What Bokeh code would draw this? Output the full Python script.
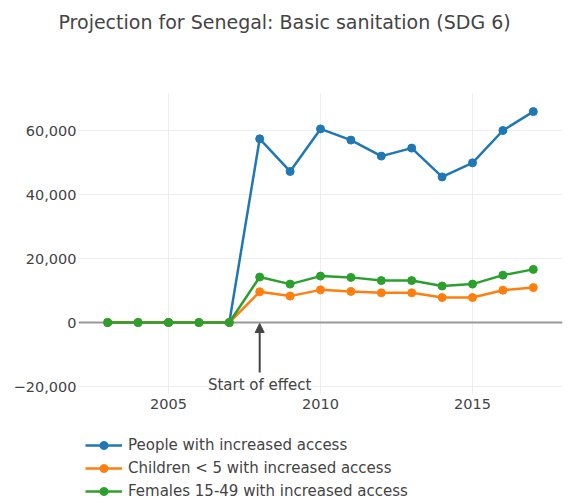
from bokeh.plotting import figure
from bokeh.layouts import column
from bokeh.models import (Legend, LegendItem, Span, Arrow, NormalHead, Label,
                          FixedTicker, Range1d, Title)
from bokeh.embed import file_html
from bokeh.resources import INLINE

# ---- data ----
years = [2003, 2004, 2005, 2006, 2007, 2008, 2009, 2010, 2011, 2012, 2013, 2014, 2015, 2016, 2017]
people = [0, 0, 0, 0, 0, 57400, 47200, 60500, 57000, 52000, 54500, 45500, 49900, 60000, 65900]
children = [0, 0, 0, 0, 0, 9600, 8250, 10200, 9700, 9270, 9270, 7800, 7800, 10100, 10900]
females = [0, 0, 0, 0, 0, 14200, 12000, 14500, 14100, 13100, 13100, 11400, 12000, 14800, 16600]
series_names = ["People with increased access",
                "Children < 5 with increased access",
                "Females 15-49 with increased access"]
colors = ["#1f77b4", "#ff7f0e", "#2ca02c"]
x_ticks = [2005, 2010, 2015]
y_ticks = [-20000, 0, 20000, 40000, 60000]
y_tick_labels = ["\u221220,000", "0", "20,000", "40,000", "60,000"]
title_text = "Projection for Senegal: Basic sanitation (SDG 6)"
annotation_year = 2008
annotation_text = "Start of effect"

FONT = "DejaVu Sans"
TXT = "#444444"

p = figure(width=579, height=420, output_backend="svg", toolbar_location=None,
           x_range=Range1d(2002.04, 2017.96), y_range=Range1d(-22500, 71875),
           min_border_left=78, min_border_right=17, min_border_top=92,
           min_border_bottom=26)
p.outline_line_color = None
p.background_fill_color = "white"

# spacer between frame and title, then the title itself further out
p.add_layout(Title(text=" ", text_font_size="30px", standoff=20), "above")
p.add_layout(Title(text=title_text, text_font=FONT, text_font_size="19px",
                   text_font_style="normal", text_color=TXT, align="left",
                   offset=-20, standoff=10), "above")

# axes
for ax in (p.xaxis[0], p.yaxis[0]):
    ax.axis_line_color = None
    ax.major_tick_line_color = None
    ax.minor_tick_line_color = None
    ax.major_tick_out = 0
    ax.major_tick_in = 0
    ax.major_label_text_font = FONT
    ax.major_label_text_font_size = "14.5px"
    ax.major_label_text_color = TXT
p.xaxis.major_label_standoff = 4
p.yaxis.major_label_standoff = 2
p.xaxis.ticker = FixedTicker(ticks=x_ticks)
p.yaxis.ticker = FixedTicker(ticks=y_ticks)
p.yaxis.major_label_overrides = {t: l for t, l in zip(y_ticks, y_tick_labels)}
p.xgrid.ticker = FixedTicker(ticks=x_ticks)
p.ygrid.ticker = FixedTicker(ticks=y_ticks)
p.xgrid.grid_line_color = "#eeeeee"
p.ygrid.grid_line_color = "#eeeeee"

zero = Span(location=0, dimension="width", line_color="#999999", line_width=2, level="underlay")
p.add_layout(zero)

series = [people, children, females]
for vals, col in zip(series, colors):
    p.line(years, vals, line_color=col, line_width=2.5)
    p.scatter(years, vals, size=8, fill_color=col, line_color=col)

arrow = Arrow(end=NormalHead(size=9, fill_color="#444444", line_color="#444444"),
              x_start=annotation_year, y_start=-15600,
              x_end=annotation_year, y_end=-300,
              line_color="#444444", line_width=2)
p.add_layout(arrow)
lab = Label(x=annotation_year, y=-19400, text=annotation_text,
            text_align="center", text_baseline="middle",
            text_font=FONT, text_font_size="15px", text_color=TXT)
p.add_layout(lab)

# ---- legend panel below the chart (its ranges keep its own copies of the
# series out of view, so only the legend shows) ----
lf = figure(width=579, height=81, output_backend="svg", toolbar_location=None,
            x_range=Range1d(0, 1), y_range=Range1d(-3, -2),
            x_axis_type=None, y_axis_type=None,
            min_border_left=0, min_border_right=0, min_border_top=0,
            min_border_bottom=0)
lf.outline_line_color = None
lf.xgrid.visible = False
lf.ygrid.visible = False
items = []
for vals, name, col in zip(series, series_names, colors):
    r1 = lf.line(years, vals, line_color=col, line_width=2.5)
    r2 = lf.scatter(years, vals, size=8, fill_color=col, line_color=col)
    items.append(LegendItem(label=name, renderers=[r1, r2]))
legend = Legend(items=items, location=(7, 0), orientation="vertical",
                padding=0, margin=0, spacing=3, glyph_height=20, glyph_width=37,
                label_height=20, label_standoff=6,
                label_text_font=FONT, label_text_font_size="15px",
                label_text_color=TXT, border_line_color=None,
                background_fill_alpha=0)
lf.add_layout(legend, "center")

open("out.html", "w").write(file_html(column(p, lf), INLINE))
